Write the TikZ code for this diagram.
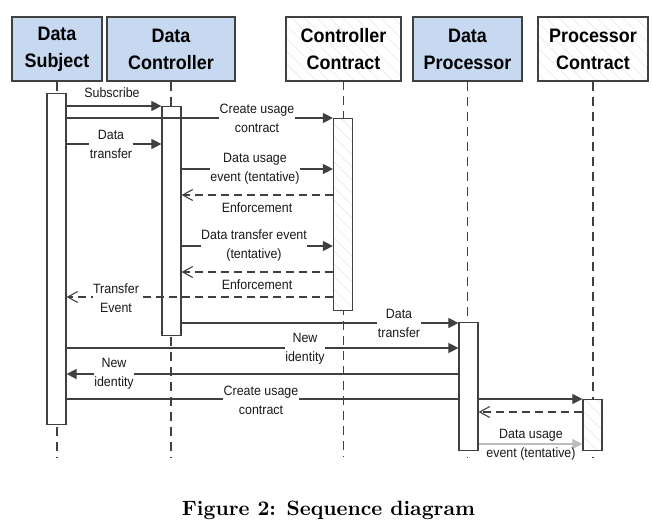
\documentclass[tikz,border=0pt]{standalone}
\usepackage{fontspec}
\usepackage{graphicx}
\setsansfont{Liberation Sans}
\newfontfamily\condsans[FakeStretch=0.92]{Liberation Sans}
\usetikzlibrary{arrows.meta,patterns.meta}
\definecolor{ln}{HTML}{404040}
\definecolor{hdr}{HTML}{C6D9F1}
\definecolor{lightln}{HTML}{BDBDBD}
\definecolor{hatch}{HTML}{E6E6E6}
\begin{document}
\begin{tikzpicture}[x=1pt,y=-1pt,
  hbox/.style={draw=ln, line width=1.2pt, minimum height=64pt, inner sep=0pt, align=center,
    font=\condsans\bfseries\fontsize{19.5}{27}\selectfont, text=black},
  actorbox/.style={hbox, fill=hdr},
  contractbox/.style={hbox, preaction={fill=white}, pattern={Lines[angle=-45,distance=9pt,line width=0.5pt]}, pattern color=hatch},
  act/.style={draw=ln, line width=1.2pt, fill=white, minimum width=19pt, inner sep=0pt, anchor=north},
  hatchact/.style={act, preaction={fill=white}, pattern={Lines[angle=-45,distance=9pt,line width=0.5pt]}, pattern color=hatch},
  life/.style={draw=ln, line width=1.2pt, dash pattern=on 9pt off 6pt},
  msg/.style={draw=ln, line width=1.1pt, -{Triangle[length=10pt,width=10pt]}},
  lightmsg/.style={draw=lightln, line width=1.1pt, -{Triangle[length=10pt,width=10pt]}},
  ret/.style={draw=ln, line width=1.1pt, dash pattern=on 8pt off 5pt, -{Straight Barb[length=10pt,width=11pt]}},
  lbl/.style={font=\condsans\fontsize{13.5}{19}\selectfont, align=center, fill=white, inner sep=0.5pt, text=black!90},
  plainlbl/.style={font=\condsans\fontsize{13.5}{19}\selectfont, align=center, inner sep=0pt, text=black!90}
]
\useasboundingbox (0,0) rectangle (653,528);

% header boxes
\node[actorbox, minimum width=90pt] (ds) at (57,49) {Data\\Subject};
\node[actorbox, minimum width=128pt] (dc) at (171,49) {Data\\Controller};
\node[contractbox, minimum width=115pt] (cc) at (343.5,49) {Controller\\Contract};
\node[actorbox, minimum width=109pt] (dp) at (467.5,49) {Data\\Processor};
\node[contractbox, minimum width=110pt] (pc) at (593,49) {Processor\\Contract};

% levels
\coordinate (bottom) at (0,457);
\coordinate (y1) at (0,106);
\coordinate (y2) at (0,118);
\coordinate (y3) at (0,144);
\coordinate (y4) at (0,169);
\coordinate (y5) at (0,195);
\coordinate (y6) at (0,246);
\coordinate (y7) at (0,272);
\coordinate (y8) at (0,297);
\coordinate (y9) at (0,323);
\coordinate (y10) at (0,348);
\coordinate (y11) at (0,374);
\coordinate (y12) at (0,399);
\coordinate (y13) at (0,412);
\coordinate (y14) at (0,444);

% lifelines
\foreach \n in {ds,dc,cc,dp,pc}
  \draw[life] (\n.south) -- (\n.south |- bottom);

% activations
\node[act, minimum height=331pt] (dsact) at (56.5,93) {};
\node[act, minimum height=229pt] (dcact) at (171.5,106) {};
\node[hatchact, minimum height=192pt] (ccact) at (343,118) {};
\node[hatchact, minimum height=51pt] (pcact) at (592.5,399) {};

% messages
\draw[msg] (dsact.east |- y1) -- (dcact.west |- y1);
\node[plainlbl] (l1) at (112,93) {Subscribe};

\draw[msg] (dsact.east |- y2) -- (ccact.west |- y2);
\node[lbl] (l2) at (257,118) {Create usage\\contract};

\draw[msg] (dsact.east |- y3) -- (dcact.west |- y3);
\node[lbl] (l3) at (111,144) {Data\\transfer};

\draw[msg] (dcact.east |- y4) -- (ccact.west |- y4);
\node[lbl] (l4) at (255,169) {Data usage\\event (tentative)};

\draw[ret] (ccact.west |- y5) -- (dcact.east |- y5);
\node[plainlbl] (l5) at (257,208) {Enforcement};

\draw[msg] (dcact.east |- y6) -- (ccact.west |- y6);
\node[lbl] (l6) at (254,246) {Data transfer event\\(tentative)};

\draw[ret] (ccact.west |- y7) -- (dcact.east |- y7);
\node[plainlbl] (l7) at (257,285) {Enforcement};

\draw[ret] (ccact.west |- y8) -- (dsact.east |- y8);
\node[lbl] (l8) at (116,298) {Transfer\\Event};

\node[act, minimum height=128pt] (dpact) at (468.5,322) {};

\draw[msg] (dcact.east |- y9) -- (dpact.west |- y9);
\node[lbl] (l9) at (399,323) {Data\\transfer};

\draw[msg] (dsact.east |- y10) -- (dpact.west |- y10);
\node[lbl] (l10) at (305,349) {New\\identity};

\draw[msg] (dpact.west |- y11) -- (dsact.east |- y11);
\node[lbl] (l11) at (114,374) {New\\identity};

\draw[msg] (dsact.east |- y12) -- (pcact.west |- y12);
\node[lbl] (l12) at (261,400) {Create usage\\contract};

\draw[ret] (pcact.west |- y13) -- (dpact.east |- y13);

\draw[lightmsg] (dpact.east |- y14) -- (pcact.west |- y14);
\node[lbl, fill=none] (l14) at (531,445) {Data usage\\event (tentative)};

% redraw DP activation on top of the crossing line
\node[act, minimum height=128pt] at (468.5,322) {};

% caption
\node[inner sep=0pt] (cap) at (328.5,510) {\resizebox{293pt}{!}{\bfseries Figure 2: Sequence diagram}};
\end{tikzpicture}
\end{document}
